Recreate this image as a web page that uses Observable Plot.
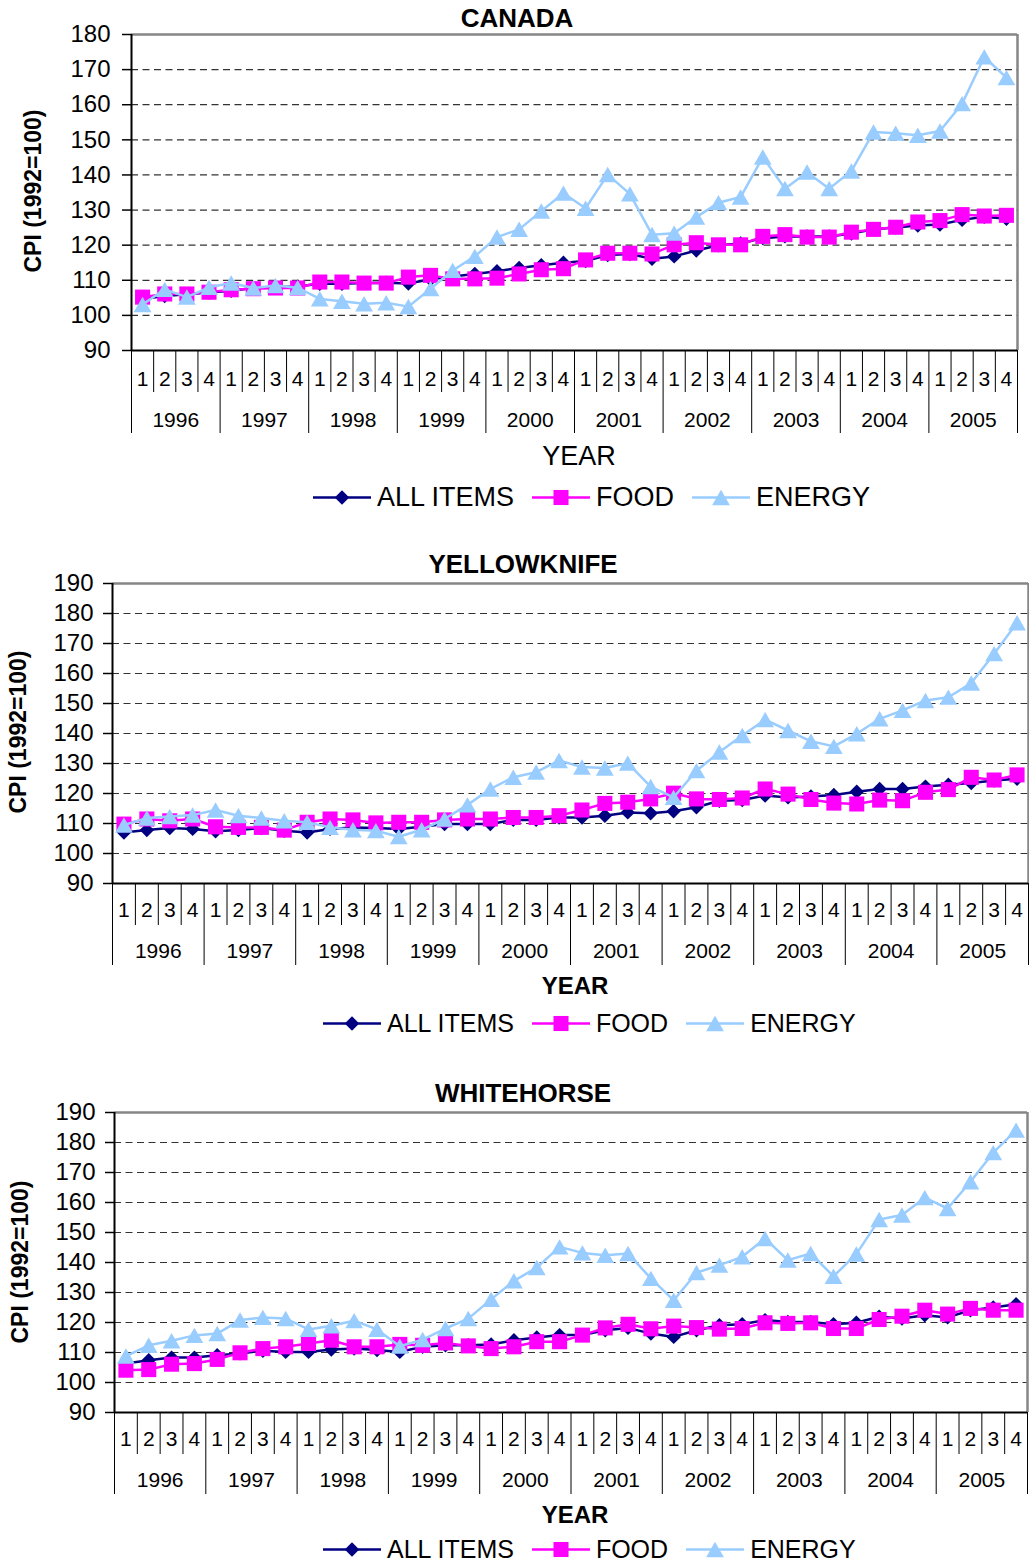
<!DOCTYPE html>
<html><head><meta charset="utf-8">
<script src="https://cdn.jsdelivr.net/npm/d3@7"></script>
<script src="https://cdn.jsdelivr.net/npm/@observablehq/plot@0.6"></script>
<style>
body{margin:0;background:#fff;font-family:"Liberation Sans",Arial,sans-serif;}
#page{position:relative;width:1029px;height:1562px;overflow:hidden;background:#fff;}
.abs{position:absolute;white-space:nowrap;color:#000;line-height:1;}
.ctr{transform:translate(-50%,-50%);}
.plotwrap{position:absolute;left:0;}
.legend{position:absolute;display:flex;align-items:center;gap:18px;transform:translateY(-50%);}
.legend .item{display:flex;align-items:center;gap:6px;}
</style></head><body><div id="page"></div>
<script>
const quarters = ["1", "2", "3", "4"];
const years = [1996, 1997, 1998, 1999, 2000, 2001, 2002, 2003, 2004, 2005];
const seriesNames = ["ALL ITEMS", "FOOD", "ENERGY"];
const yAxisLabel = "CPI (1992=100)";
const xAxisLabel = "YEAR";

const canadaAll = [104.7, 105.5, 106.0, 106.5, 107.0, 107.8, 108.0, 108.2, 109.0, 109.0, 109.2, 109.3, 109.1, 110.3, 111.1, 111.8, 112.6, 113.5, 114.3, 115.0, 115.5, 117.2, 117.5, 116.1, 116.8, 118.5, 120.0, 120.5, 122.0, 122.5, 122.5, 122.5, 123.3, 124.5, 125.0, 125.6, 125.9, 127.2, 128.1, 127.5];
const canadaFood = [105.2, 106.1, 106.1, 106.6, 107.3, 107.6, 107.8, 107.8, 109.5, 109.5, 109.2, 109.2, 110.9, 111.4, 110.4, 110.4, 110.6, 111.8, 113.0, 113.3, 115.8, 117.7, 117.7, 117.5, 120.1, 120.7, 120.1, 120.1, 122.5, 123.0, 122.3, 122.3, 123.7, 124.5, 125.1, 126.6, 127.0, 128.7, 128.3, 128.5];
const canadaEnergy = [103.1, 107.4, 105.2, 108.0, 109.2, 107.8, 108.5, 107.9, 104.7, 104.0, 103.3, 103.6, 102.5, 107.6, 112.8, 116.8, 122.3, 124.5, 129.7, 134.8, 130.5, 140.1, 134.6, 123.0, 123.4, 128.0, 132.1, 133.7, 145.1, 136.1, 140.8, 136.1, 141.1, 152.2, 151.9, 151.3, 152.5, 160.3, 173.6, 167.7];

const yellowknifeAll = [107.0, 107.8, 108.5, 108.2, 107.4, 107.8, 108.5, 107.6, 107.0, 108.2, 108.7, 108.5, 108.2, 108.9, 109.8, 109.8, 109.8, 111.2, 111.2, 112.0, 112.0, 112.6, 113.7, 113.4, 114.1, 115.4, 117.6, 117.8, 119.3, 118.7, 119.0, 119.5, 120.6, 121.5, 121.5, 122.3, 122.9, 123.5, 124.3, 124.9];
const yellowknifeFood = [109.8, 111.5, 110.9, 111.5, 108.9, 108.7, 108.7, 107.8, 110.4, 111.5, 111.2, 110.2, 110.4, 110.4, 111.2, 111.5, 111.5, 112.0, 112.0, 112.6, 114.5, 116.7, 117.1, 118.2, 120.1, 118.2, 118.0, 118.5, 121.5, 119.8, 118.0, 116.8, 116.5, 117.8, 117.6, 120.4, 121.3, 125.4, 124.5, 126.2];
const yellowknifeEnergy = [109.5, 111.8, 112.3, 112.8, 114.5, 112.6, 111.8, 110.9, 110.4, 108.7, 107.9, 107.6, 105.6, 107.9, 111.5, 116.2, 121.5, 125.4, 127.1, 131.0, 128.8, 128.5, 130.1, 122.3, 118.7, 127.6, 133.8, 139.3, 144.6, 141.0, 137.4, 135.7, 139.9, 144.9, 147.7, 151.0, 152.1, 156.8, 166.6, 176.9];

const whitehorseAll = [106.3, 107.4, 108.3, 108.3, 109.1, 109.7, 110.6, 110.2, 110.2, 111.0, 111.3, 110.8, 110.2, 111.9, 112.4, 112.4, 112.7, 114.1, 115.0, 115.8, 115.8, 117.4, 118.2, 116.3, 115.2, 117.4, 119.1, 119.4, 120.8, 120.2, 120.2, 119.4, 119.9, 121.9, 121.3, 122.4, 121.7, 124.1, 125.0, 126.1];
const whitehorseFood = [104.1, 104.3, 106.1, 106.3, 107.7, 109.9, 111.3, 111.9, 113.0, 114.1, 111.9, 111.9, 112.7, 112.4, 113.2, 112.2, 111.3, 111.9, 113.6, 113.6, 115.8, 118.2, 119.4, 117.9, 118.8, 118.3, 117.8, 118.0, 119.9, 119.7, 119.9, 118.0, 118.0, 121.0, 122.1, 124.1, 122.8, 124.7, 124.1, 124.1];
const whitehorseEnergy = [108.8, 112.4, 113.9, 115.7, 116.3, 120.8, 121.7, 121.3, 117.7, 118.9, 120.6, 117.7, 112.1, 114.3, 118.0, 121.3, 127.7, 133.9, 138.3, 145.2, 143.2, 142.4, 143.0, 134.7, 127.4, 136.6, 139.1, 141.9, 148.0, 140.8, 143.0, 135.4, 142.8, 154.3, 155.8, 161.6, 158.0, 166.9, 176.6, 184.1];

const colors = {"ALL ITEMS": "#000080", "FOOD": "#FF00FF", "ENERGY": "#99CCFF"};
const symbols = {"ALL ITEMS": "diamond2", "FOOD": "square", "ENERGY": "triangle"};
const radii = {"ALL ITEMS": 6.5, "FOOD": 8.5, "ENERGY": 6.6};
const dys = {"ALL ITEMS": 0, "FOOD": 0, "ENERGY": 2.5};

const panels = [
  {title: "CANADA", values: [canadaAll, canadaFood, canadaEnergy], yMax: 180,
   frameTop: 34, frameBottom: 350, left: 131, right: 1017, titleX: 517, titleY: 18,
   yearX: 579, yearY: 456, yearBold: false, yearSize: 27, legendX: 313, legendY: 497, legendSize: 27,
   ylabelX: 33, ylabelY: 191, qDy: 35, yDy: 76, qSep: 42, ySep: 83, tickPad: 12},
  {title: "YELLOWKNIFE", values: [yellowknifeAll, yellowknifeFood, yellowknifeEnergy], yMax: 190,
   frameTop: 583, frameBottom: 883, left: 112, right: 1028, titleX: 523, titleY: 564,
   yearX: 575, yearY: 986, yearBold: true, yearSize: 24, legendX: 323, legendY: 1023, legendSize: 25,
   ylabelX: 18, ylabelY: 732, qDy: 33, yDy: 74, qSep: 42, ySep: 82, tickPad: 10},
  {title: "WHITEHORSE", values: [whitehorseAll, whitehorseFood, whitehorseEnergy], yMax: 190,
   frameTop: 1112, frameBottom: 1412, left: 114, right: 1027, titleX: 523, titleY: 1093,
   yearX: 575, yearY: 1515, yearBold: true, yearSize: 24, legendX: 323, legendY: 1549, legendSize: 25,
   ylabelX: 20, ylabelY: 1262, qDy: 33, yDy: 74, qSep: 42, ySep: 82, tickPad: 10}
];

const page = document.getElementById("page");
const font = '"Liberation Sans", Arial, sans-serif';

function addDiv(cls, text, styles) {
  const d = document.createElement("div");
  d.className = cls;
  d.textContent = text;
  Object.assign(d.style, styles);
  page.appendChild(d);
  return d;
}

function swatch(name) {
  const w = 58, h = 20;
  const svg = d3.create("svg").attr("width", w).attr("height", h).style("overflow", "visible");
  svg.append("line").attr("x1", 0).attr("x2", w).attr("y1", h / 2).attr("y2", h / 2)
    .attr("stroke", colors[name]).attr("stroke-width", 2.5);
  const symMap = {"diamond2": d3.symbolDiamond2, "square": d3.symbolSquare, "triangle": d3.symbolTriangle};
  const r = radii[name];
  svg.append("path").attr("d", d3.symbol(symMap[symbols[name]], r * r * Math.PI)())
    .attr("transform", `translate(${w / 2},${h / 2 + dys[name]})`).attr("fill", colors[name]);
  return svg.node();
}

panels.forEach(p => {
  const rows = [];
  seriesNames.forEach((s, si) => {
    p.values[si].forEach((v, i) => {
      rows.push({series: s, i, v, year: years[Math.floor(i / 4)], q: quarters[i % 4]});
    });
  });
  const qRows = rows.filter(r => r.series === seriesNames[0]);
  const n = qRows.length;
  const mt = 15, mb = 100;
  const fh = p.frameBottom - p.frameTop;
  const yTicks = d3.range(90, p.yMax + 1, 10);
  const gridTicks = yTicks.filter(t => t > 90 && t < p.yMax);
  const quarterBounds = d3.range(1, n).filter(k => k % 4 !== 0).map(k => k - 0.5);
  const yearBounds = d3.range(0, n + 1, 4).map(k => k - 0.5);

  const marks = [
    Plot.gridY({ticks: gridTicks, stroke: "#333", strokeOpacity: 1, strokeDasharray: "7,4.5", strokeWidth: 1.2}),
    Plot.ruleY([p.yMax], {stroke: "#868686", strokeWidth: 2.5}),
    Plot.ruleX([n - 0.5], {stroke: "#868686", strokeWidth: 2.5}),
    Plot.ruleX(quarterBounds, {insetTop: fh, insetBottom: -p.qSep, stroke: "#000", strokeWidth: 1}),
    Plot.ruleX(yearBounds, {insetTop: fh, insetBottom: -p.ySep, stroke: "#000", strokeWidth: 1}),
    Plot.axisY({ticks: yTicks, tickSize: 9, tickPadding: p.tickPad, tickFormat: d => String(d), label: null, fontSize: 24, strokeWidth: 1.5}),
    Plot.ruleX([-0.5], {stroke: "#000", strokeWidth: 2}),
    Plot.ruleY([90], {stroke: "#000", strokeWidth: 2}),
    Plot.text(qRows, {x: "i", text: "q", frameAnchor: "bottom", dy: p.qDy, fontSize: 21, fill: "#000"}),
    Plot.text(years, {x: (d, k) => k * 4 + 1.5, text: d => String(d), frameAnchor: "bottom", dy: p.yDy, fontSize: 21, fill: "#000"})
  ];
  seriesNames.forEach(s => {
    const data = rows.filter(r => r.series === s);
    marks.push(Plot.line(data, {x: "i", y: "v", stroke: colors[s], strokeWidth: 2.5}));
    marks.push(Plot.dot(data, {x: "i", y: "v", symbol: symbols[s], r: radii[s], fill: colors[s], stroke: "none", dy: dys[s]}));
  });

  const chart = Plot.plot({
    width: 1029,
    height: fh + mt + mb,
    marginTop: mt, marginBottom: mb, marginLeft: p.left, marginRight: 1029 - p.right,
    x: {type: "linear", domain: [-0.5, n - 0.5], axis: null},
    y: {domain: [90, p.yMax], axis: null},
    style: {fontFamily: font, fontSize: "23px", color: "#000", background: "transparent", overflow: "visible"},
    marks
  });
  const wrap = document.createElement("div");
  wrap.className = "plotwrap";
  wrap.style.top = (p.frameTop - mt) + "px";
  wrap.appendChild(chart);
  page.appendChild(wrap);

  addDiv("abs ctr", p.title, {left: p.titleX + "px", top: p.titleY + "px", fontSize: "26px", fontWeight: "bold"});
  addDiv("abs ctr", xAxisLabel, {left: p.yearX + "px", top: p.yearY + "px", fontSize: p.yearSize + "px", fontWeight: p.yearBold ? "bold" : "normal"});
  addDiv("abs", yAxisLabel, {left: p.ylabelX + "px", top: p.ylabelY + "px", fontSize: "23px", fontWeight: "bold", transform: "translate(-50%,-50%) rotate(-90deg)"});

  const leg = document.createElement("div");
  leg.className = "legend";
  leg.style.left = p.legendX + "px";
  leg.style.top = p.legendY + "px";
  seriesNames.forEach(s => {
    const it = document.createElement("div");
    it.className = "item";
    it.appendChild(swatch(s));
    const t = document.createElement("span");
    t.textContent = s;
    t.style.fontSize = p.legendSize + "px";
    t.style.lineHeight = "1";
    it.appendChild(t);
    leg.appendChild(it);
  });
  page.appendChild(leg);
});
</script></body></html>
